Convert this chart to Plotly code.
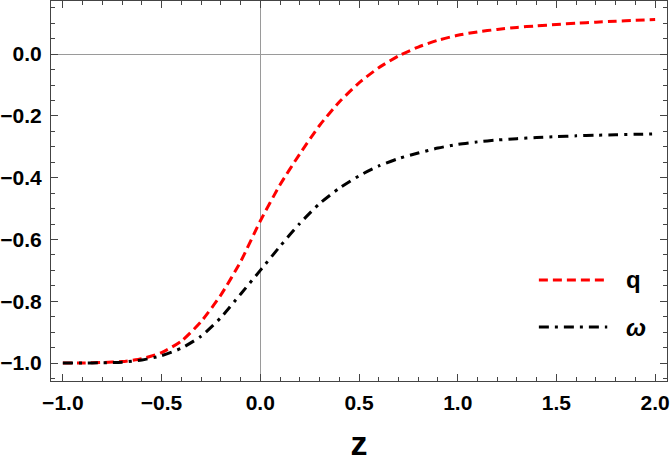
import plotly.graph_objects as go

# redshift grid and the two curves
z = [-1.0, -0.9, -0.8, -0.7, -0.6, -0.5, -0.4, -0.3, -0.2, -0.1,
     0.0, 0.1, 0.2, 0.3, 0.4, 0.5, 0.6, 0.7, 0.8, 0.9,
     1.0, 1.1, 1.2, 1.3, 1.4, 1.5, 1.6, 1.7, 1.8, 1.9, 2.0]

q = [-1.000, -1.000, -0.998, -0.995, -0.986, -0.966, -0.929, -0.866, -0.780, -0.672,
     -0.540, -0.423, -0.323, -0.231, -0.155, -0.093, -0.044, -0.006, 0.023, 0.045,
     0.061, 0.072, 0.080, 0.0865, 0.0915, 0.096, 0.100, 0.1035, 0.1065, 0.1095, 0.112]

w = [-1.000, -1.000, -0.999, -0.997, -0.990, -0.976, -0.952, -0.913, -0.853, -0.777,
     -0.700, -0.622, -0.548, -0.484, -0.434, -0.394, -0.362, -0.338, -0.320, -0.304,
     -0.292, -0.284, -0.278, -0.2735, -0.270, -0.267, -0.2645, -0.2625, -0.261, -0.2595, -0.258]

names = ["q", "<i>ω</i>"]
colors = ["#ff0000", "#000000"]
dashes = ["9px,5px", "10px,6px,3px,6px"]

fig = go.Figure()
for ys, nm, col, dsh in zip([q, w], names, colors, dashes):
    fig.add_trace(go.Scatter(
        x=z, y=ys, mode="lines", name=nm,
        line=dict(color=col, width=3, dash=dsh, shape="spline", smoothing=0.6),
        showlegend=False,
    ))

# hand-made legend so the key lines are as long as the original
leg_y = [0.266, 0.142]
for yy, nm, col, dsh in zip(leg_y, names, colors, dashes):
    fig.add_shape(type="line", xref="paper", yref="paper",
                  x0=0.792, x1=0.903, y0=yy, y1=yy,
                  line=dict(color=col, width=3, dash=dsh))
    fig.add_annotation(xref="paper", yref="paper", x=0.93, y=yy,
                       text="<b>" + nm + "</b>", showarrow=False,
                       xanchor="left", yanchor="middle",
                       font=dict(size=24, color="black", family="Liberation Sans"))

frame = "#444444"
tick_font = dict(size=21, color="black", family="Liberation Sans", weight=700)

fig.update_xaxes(
    range=[-1.06, 2.06], dtick=0.5, tick0=0, tickformat=".1f",
    showline=True, linecolor=frame, linewidth=1, mirror="allticks",
    ticks="inside", ticklen=7, tickwidth=1, tickcolor=frame,
    minor=dict(dtick=0.1, ticks="inside", ticklen=4, tickcolor=frame, showgrid=False),
    showgrid=False, zeroline=True, zerolinecolor="#9a9a9a", zerolinewidth=1,
    tickfont=tick_font, ticklabelstandoff=3, automargin=False,
    title=dict(text="<b>z</b>", font=dict(size=34, color="black", family="Liberation Sans"),
               standoff=27),
)
fig.update_yaxes(
    range=[-1.058, 0.172], dtick=0.2, tick0=0, tickformat=".1f",
    showline=True, linecolor=frame, linewidth=1, mirror="allticks",
    ticks="inside", ticklen=7, tickwidth=1, tickcolor=frame,
    minor=dict(dtick=0.05, ticks="inside", ticklen=4, tickcolor=frame, showgrid=False),
    showgrid=False, zeroline=True, zerolinecolor="#9a9a9a", zerolinewidth=1,
    tickfont=tick_font, ticklabelstandoff=4, automargin=False,
)

fig.update_layout(
    width=670, height=462,
    margin=dict(l=51, r=3, t=1, b=81),
    plot_bgcolor="white", paper_bgcolor="white",
    font=dict(family="Liberation Sans", size=21, color="black"),
)

# drop the browser's default 8px body margin so the figure sits at the corner
fig.write_html("out.html", config={"displayModeBar": False},
               post_script="document.body.style.margin='0';")
